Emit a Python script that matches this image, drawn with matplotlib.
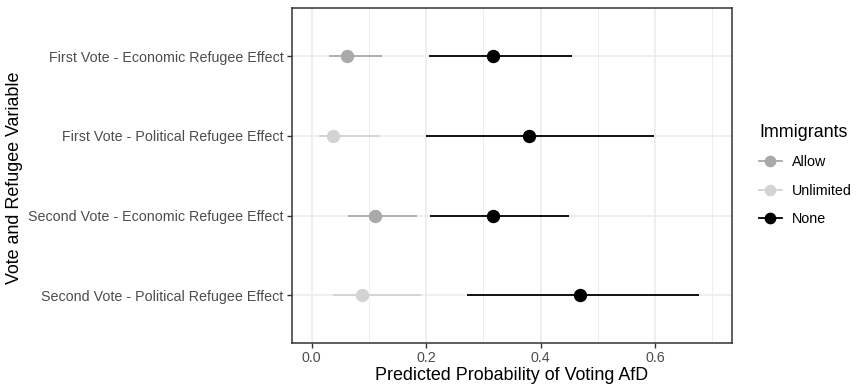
import matplotlib.pyplot as plt
from matplotlib.lines import Line2D
from matplotlib.ticker import MultipleLocator

plt.rcParams['font.family'] = ['Liberation Sans', 'DejaVu Sans']

# categories, top to bottom
categories = [
    'First Vote - Economic Refugee Effect',
    'First Vote - Political Refugee Effect',
    'Second Vote - Economic Refugee Effect',
    'Second Vote - Political Refugee Effect',
]

# light group (Allow for economic rows, Unlimited for political rows)
light_group = ['Allow', 'Unlimited', 'Allow', 'Unlimited']
light_est = [0.062, 0.038, 0.110, 0.088]
light_lo = [0.030, 0.013, 0.064, 0.038]
light_hi = [0.122, 0.119, 0.184, 0.191]

# None group
none_est = [0.317, 0.379, 0.316, 0.469]
none_lo = [0.205, 0.199, 0.207, 0.271]
none_hi = [0.455, 0.598, 0.449, 0.677]

group_colors = {'Allow': '#A9A9A9', 'Unlimited': '#D3D3D3', 'None': '#000000'}
legend_order = ['Allow', 'Unlimited', 'None']

fig = plt.figure(figsize=(8.6, 3.84), dpi=100)
ax = fig.add_axes([0.3392, 0.1068, 0.5123, 0.8715])

ypos = list(range(len(categories)))
for i, y in enumerate(ypos):
    c = group_colors[light_group[i]]
    ax.plot([light_lo[i], light_hi[i]], [y, y], color=c, lw=1.3, solid_capstyle='butt', zorder=3)
    ax.plot(light_est[i], y, 'o', color=c, ms=8.6, zorder=4)
    c = group_colors['None']
    ax.plot([none_lo[i], none_hi[i]], [y, y], color=c, lw=1.3, solid_capstyle='butt', zorder=3)
    ax.plot(none_est[i], y, 'o', color=c, ms=8.6, zorder=4)

ax.set_xlim(-0.035, 0.735)
ax.set_ylim(len(categories) - 1 + 0.6, -0.6)
ax.set_yticks(ypos)
ax.set_yticklabels(categories)
ax.xaxis.set_major_locator(MultipleLocator(0.2))
ax.xaxis.set_minor_locator(MultipleLocator(0.1))
ax.xaxis.set_major_formatter(plt.FuncFormatter(lambda v, p: f'{v:.1f}'))

ax.grid(True, which='major', color='#EBEBEB', lw=1.1, zorder=0)
ax.grid(True, which='minor', axis='x', color='#EBEBEB', lw=0.6, zorder=0)
ax.set_axisbelow(True)
ax.tick_params(which='major', length=3.4, width=1.0, color='#333333',
               labelcolor='#4D4D4D', labelsize=10.3, pad=2.5)
ax.tick_params(which='minor', length=0)
for s in ax.spines.values():
    s.set_color('#333333')
    s.set_linewidth(1.1)

fig.text(0.5953, 0.0234, 'Predicted Probability of Voting AfD', fontsize=12.9,
         ha='center', va='center')
fig.text(0.0174, 0.538, 'Vote and Refugee Variable', fontsize=12.9,
         rotation=90, ha='center', va='center')

handles = [Line2D([], [], color=group_colors[g], lw=1.3, marker='o', ms=7.4) for g in legend_order]
leg = fig.legend(handles, legend_order, title='Immigrants', loc='upper left',
                 bbox_to_anchor=(0.883, 0.677), frameon=False, fontsize=10.3,
                 title_fontsize=12.9, handlelength=1.55, handletextpad=0.75,
                 labelspacing=1.0, borderpad=0, borderaxespad=0)
leg._legend_box.align = 'left'

fig.savefig('out.png', dpi=100)
